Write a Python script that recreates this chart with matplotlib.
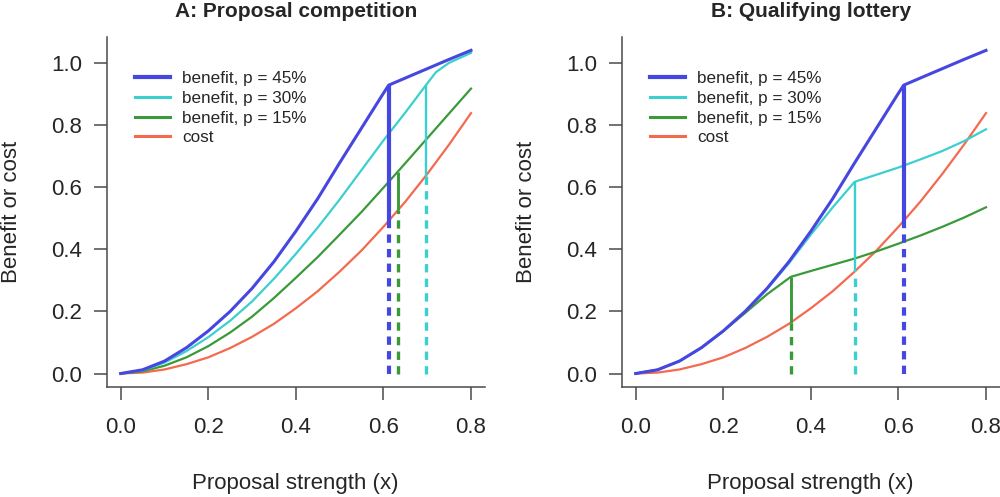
"""Benefit vs cost of proposal strength: two funding schemes side by side."""

import matplotlib
matplotlib.use("Agg")
import matplotlib.pyplot as plt
from matplotlib.lines import Line2D

plt.rcParams["font.family"] = ["Liberation Sans", "DejaVu Sans"]
plt.rcParams["lines.scale_dashes"] = False

COLORS = {
    "p45": "#4646e0",
    "p30": "#3ccfcf",
    "p15": "#3a9a3a",
    "cost": "#f36a4f",
    "text": "#262626",
    "axis": "#4a4a4a",
}

# shared x grid for the smooth curves
x_grid = [0.0, 0.05, 0.1, 0.15, 0.2, 0.25, 0.3, 0.35, 0.4, 0.45, 0.5, 0.55, 0.6, 0.65, 0.7, 0.75, 0.8]
cost = [0.0, 0.003, 0.013, 0.03, 0.052, 0.082, 0.118, 0.16, 0.21, 0.265, 0.328, 0.396, 0.472, 0.553, 0.642, 0.737, 0.838]

# benefit, p = 45% (same in both panels)
x_p45 = [0.0, 0.05, 0.1, 0.15, 0.2, 0.25, 0.3, 0.35, 0.4, 0.45, 0.5, 0.55, 0.6, 0.612, 0.65, 0.7, 0.75, 0.8]
benefit_p45 = [0.0, 0.012, 0.04, 0.083, 0.137, 0.2, 0.274, 0.36, 0.458, 0.563, 0.678, 0.79, 0.902, 0.928, 0.951, 0.981, 1.011, 1.04]

# panel A: proposal competition
x_a_p30 = [0.0, 0.05, 0.1, 0.15, 0.2, 0.25, 0.3, 0.35, 0.4, 0.45, 0.5, 0.55, 0.6, 0.65, 0.697, 0.72, 0.75, 0.8]
a_p30 = [0.0, 0.01, 0.035, 0.072, 0.117, 0.17, 0.232, 0.305, 0.385, 0.47, 0.56, 0.655, 0.75, 0.84, 0.928, 0.97, 1.0, 1.032]
x_a_p15 = [0.0, 0.05, 0.1, 0.15, 0.2, 0.25, 0.3, 0.35, 0.4, 0.45, 0.5, 0.55, 0.6, 0.633, 0.65, 0.7, 0.75, 0.8]
a_p15 = [0.0, 0.007, 0.025, 0.052, 0.088, 0.132, 0.183, 0.243, 0.308, 0.375, 0.447, 0.52, 0.598, 0.65, 0.677, 0.757, 0.837, 0.917]

# panel B: qualifying lottery
x_b_p30 = x_grid
b_p30 = [0.0, 0.012, 0.04, 0.083, 0.137, 0.2, 0.272, 0.355, 0.447, 0.535, 0.617, 0.64, 0.663, 0.689, 0.716, 0.748, 0.786]
x_b_p15 = [0.0, 0.05, 0.1, 0.15, 0.2, 0.25, 0.3, 0.354, 0.4, 0.45, 0.5, 0.55, 0.6, 0.65, 0.7, 0.75, 0.8]
b_p15 = [0.0, 0.012, 0.04, 0.083, 0.136, 0.195, 0.255, 0.311, 0.33, 0.35, 0.37, 0.393, 0.418, 0.444, 0.472, 0.502, 0.535]

# optimum strength per p (45, 30, 15) with cost and benefit there
a_opt_x = [0.612, 0.697, 0.633]
a_opt_cost = [0.49, 0.636, 0.525]
a_opt_benefit = [0.928, 0.928, 0.65]
b_opt_x = [0.612, 0.5, 0.354]
b_opt_cost = [0.49, 0.328, 0.164]
b_opt_benefit = [0.928, 0.617, 0.311]

x_ticks = [0.0, 0.2, 0.4, 0.6, 0.8]
y_ticks = [0.0, 0.2, 0.4, 0.6, 0.8, 1.0]
labels = ["benefit, p = 45%", "benefit, p = 30%", "benefit, p = 15%", "cost"]

KEYS = ["p45", "p30", "p15"]
SOLID_LW = {"p45": 3.0, "p30": 1.7, "p15": 2.1}
DASH_LW = {"p45": 3.0, "p30": 2.4, "p15": 2.4}


def draw_panel(ax, title, curves, opt_x, opt_cost, opt_benefit):
    ax.plot(x_grid, cost, color=COLORS["cost"], lw=1.6)
    for key, (xs, ys) in zip(KEYS[::-1], curves[::-1]):
        ax.plot(xs, ys, color=COLORS[key], lw=2.2 if key == "p45" else 1.6)

    for key, xo, c, b in zip(KEYS, opt_x, opt_cost, opt_benefit):
        ax.plot([xo, xo], [c, b], color=COLORS[key], lw=SOLID_LW[key], solid_capstyle="butt")
        ax.plot([xo, xo], [0, c], color=COLORS[key], lw=DASH_LW[key],
                linestyle=(0, (6, 4.5)), dash_capstyle="butt")

    ax.set_xlim(-0.032, 0.832)
    ax.set_ylim(-0.0425, 1.083)
    ax.set_xticks(x_ticks)
    ax.set_yticks(y_ticks)
    ax.set_xticklabels([f"{t:.1f}" for t in x_ticks])
    ax.set_yticklabels([f"{t:.1f}" for t in y_ticks])

    for side in ("top", "right"):
        ax.spines[side].set_visible(False)
    for side in ("left", "bottom"):
        ax.spines[side].set_color(COLORS["axis"])
        ax.spines[side].set_linewidth(1.1)

    ax.tick_params(direction="out", length=9.5, width=1.1, color=COLORS["axis"],
                   labelsize=16, labelcolor=COLORS["text"])
    ax.tick_params(axis="x", pad=12)
    ax.tick_params(axis="y", pad=8)

    ax.set_title(title, fontsize=15, fontweight="bold", color=COLORS["text"], pad=14.4)

    handles = [
        Line2D([], [], color=COLORS["p45"], lw=3.0),
        Line2D([], [], color=COLORS["p30"], lw=2.2),
        Line2D([], [], color=COLORS["p15"], lw=2.2),
        Line2D([], [], color=COLORS["cost"], lw=2.2),
    ]
    leg = ax.legend(handles, labels, loc="upper left", bbox_to_anchor=(0.075, 0.902),
                    frameon=False, fontsize=12.3, handlelength=2.05, handletextpad=0.72,
                    labelspacing=0.27, borderpad=0, borderaxespad=0)
    for t in leg.get_texts():
        t.set_color(COLORS["text"])


fig = plt.figure(figsize=(10, 4.97), dpi=100)
ax_a = fig.add_axes([0.1067, 0.2219, 0.3783, 0.7036])
ax_b = fig.add_axes([0.6217, 0.2219, 0.3783, 0.7036])

draw_panel(ax_a, "A: Proposal competition",
           [(x_p45, benefit_p45), (x_a_p30, a_p30), (x_a_p15, a_p15)],
           a_opt_x, a_opt_cost, a_opt_benefit)
draw_panel(ax_b, "B: Qualifying lottery",
           [(x_p45, benefit_p45), (x_b_p30, b_p30), (x_b_p15, b_p15)],
           b_opt_x, b_opt_cost, b_opt_benefit)

for ax, ylab_x in ((ax_a, 0.012), (ax_b, 0.527)):
    pos = ax.get_position()
    fig.text(ylab_x, pos.y0 + pos.height / 2, "Benefit or cost", rotation=90,
             ha="center", va="center", fontsize=16, color=COLORS["text"])
    fig.text(pos.x0 + 0.0133 + 0.4 * 0.438, 1 - 489 / 497, "Proposal strength (x)",
             ha="center", va="baseline", fontsize=16, color=COLORS["text"])

fig.savefig("out.png", dpi=100, facecolor="white")
plt.close(fig)
